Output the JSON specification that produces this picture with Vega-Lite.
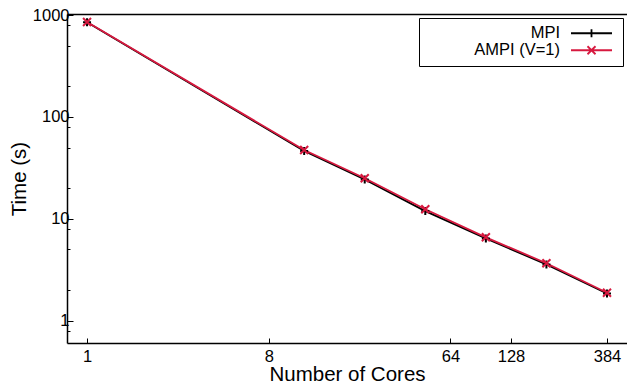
{
  "$schema": "https://vega.github.io/schema/vega-lite/v6.json",
  "width": 560,
  "height": 329,
  "autosize": {"type": "none"},
  "padding": {"left": 67, "top": 14, "right": 0, "bottom": 41},
  "background": "white",
  "config": {
    "view": {"stroke": null},
    "font": "Liberation Sans",
    "axis": {"labelFont": "Liberation Sans", "titleFont": "Liberation Sans", "labelColor": "black", "titleColor": "black", "domainColor": "black", "tickColor": "black", "titleFontWeight": "normal", "grid": false}
  },
  "data": {
    "values": [
      {"cores": 1, "time": 850, "series": "MPI"},
      {"cores": 12, "time": 46.2, "series": "MPI"},
      {"cores": 24, "time": 24.3, "series": "MPI"},
      {"cores": 48, "time": 11.9, "series": "MPI"},
      {"cores": 96, "time": 6.42, "series": "MPI"},
      {"cores": 192, "time": 3.56, "series": "MPI"},
      {"cores": 384, "time": 1.85, "series": "MPI"},
      {"cores": 1, "time": 853, "series": "AMPI (V=1)"},
      {"cores": 12, "time": 47.3, "series": "AMPI (V=1)"},
      {"cores": 24, "time": 25.0, "series": "AMPI (V=1)"},
      {"cores": 48, "time": 12.4, "series": "AMPI (V=1)"},
      {"cores": 96, "time": 6.58, "series": "AMPI (V=1)"},
      {"cores": 192, "time": 3.66, "series": "AMPI (V=1)"},
      {"cores": 384, "time": 1.88, "series": "AMPI (V=1)"}
    ]
  },
  "resolve": {"axis": {"x": "independent"}},
  "layer": [
    {
      "mark": {"type": "line", "strokeWidth": 1.8},
      "encoding": {
        "x": {
          "field": "cores", "type": "quantitative",
          "scale": {"type": "log", "base": 2, "domain": [0.795, 482.8], "nice": false},
          "axis": {
            "orient": "bottom", "values": [1, 8, 64, 128, 384], "format": "d",
            "tickSize": -5, "tickWidth": 1, "domainWidth": 1.5,
            "labelFontSize": 16.5, "labelPadding": 10, "labelFlush": false, "labelOverlap": false,
            "title": "Number of Cores", "titleFontSize": 20.5, "titlePadding": 0
          }
        },
        "y": {
          "field": "time", "type": "quantitative",
          "scale": {"type": "log", "domain": [0.604, 1023], "nice": false},
          "axis": {
            "values": [0.8, 1, 2, 5, 8, 10, 20, 50, 80, 100, 200, 500, 800, 1000],
            "labelExpr": "indexof([1,10,100,1000], datum.value) >= 0 ? format(datum.value, 'd') : ''",
            "tickSize": {"condition": {"test": "indexof([1,10,100,1000], datum.value) >= 0", "value": -6}, "value": -3},
            "tickWidth": 1, "domainWidth": 1.5,
            "labelFontSize": 16.5, "labelPadding": 4, "labelOverlap": false, "labelFlush": false,
            "title": "Time (s)", "titleFontSize": 20.5, "titlePadding": 3
          }
        },
        "color": {
          "field": "series", "type": "nominal",
          "scale": {"domain": ["MPI", "AMPI (V=1)"], "range": ["black", "#d7193f"]},
          "legend": {
            "orient": "none", "legendX": 352, "legendY": 4,
            "title": null, "padding": 7, "strokeColor": "black", "fillColor": "white", "cornerRadius": 0,
            "symbolSize": 100, "symbolStrokeWidth": 1.8, "symbolOffset": 157.25,
            "labelOffset": -39.75, "labelAlign": "right", "labelFontSize": 16.5, "labelFont": "Liberation Sans", "labelColor": "black",
            "rowPadding": 0,
            "encode": {
              "symbols": {
                "update": {
                  "shape": {"signal": "datum.value === 'MPI' ? 'M-4.1,0H4.1M0,-0.8V0.8' : 'M-4.1,0H4.1M-0.8,-0.8L0.8,0.8M-0.8,0.8L0.8,-0.8'"},
                  "fill": {"value": "transparent"},
                  "strokeWidth": {"value": 1.8}
                }
              }
            }
          }
        }
      }
    },
    {
      "transform": [{"filter": "datum.series === 'MPI'"}],
      "mark": {"type": "point", "filled": false, "strokeWidth": 2, "size": 64, "opacity": 1, "color": "black", "shape": "M-1,0H1M0,-1V1"},
      "encoding": {
        "x": {
          "field": "cores", "type": "quantitative",
          "scale": {"type": "log", "base": 2, "domain": [0.795, 482.8], "nice": false},
          "axis": {"orient": "top", "domainWidth": 1.5, "ticks": false, "labels": false, "title": null, "grid": false}
        },
        "y": {"field": "time", "type": "quantitative"}
      }
    },
    {
      "transform": [{"filter": "datum.series === 'AMPI (V=1)'"}],
      "mark": {"type": "point", "filled": false, "strokeWidth": 2, "size": 64, "opacity": 1, "color": "#d7193f", "shape": "M-1,-1L1,1M-1,1L1,-1"},
      "encoding": {
        "x": {
          "field": "cores", "type": "quantitative",
          "scale": {"type": "log", "base": 2, "domain": [0.795, 482.8], "nice": false},
          "axis": null
        },
        "y": {"field": "time", "type": "quantitative"}
      }
    }
  ]
}
